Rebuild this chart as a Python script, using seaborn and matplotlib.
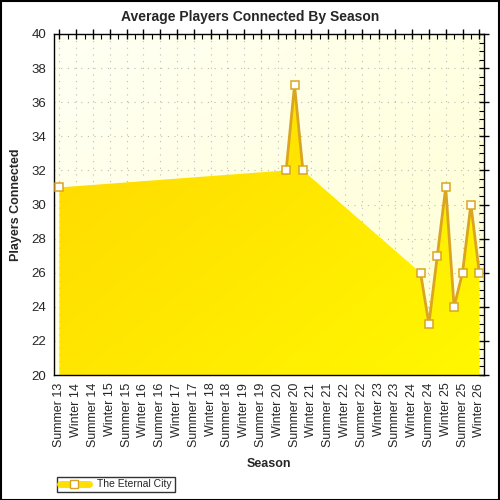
import numpy as np
import pandas as pd
import matplotlib
matplotlib.use('Agg')
import matplotlib.pyplot as plt
import seaborn as sns
from matplotlib.lines import Line2D
from matplotlib.colors import LinearSegmentedColormap
from matplotlib.ticker import MultipleLocator

# --- data ---
season_labels = [
    'Summer 13', 'Winter 14', 'Summer 14', 'Winter 15', 'Summer 15', 'Winter 16',
    'Summer 16', 'Winter 17', 'Summer 17', 'Winter 18', 'Summer 18', 'Winter 19',
    'Summer 19', 'Winter 20', 'Summer 20', 'Winter 21', 'Summer 21', 'Winter 22',
    'Summer 22', 'Winter 23', 'Summer 23', 'Winter 24', 'Summer 24', 'Winter 25',
    'Summer 25', 'Winter 26',
]
# position of each sample on the season axis (0 = Summer 13)
season_pos = [0, 13.5, 14, 14.5, 21.5, 22, 22.5, 23, 23.5, 24, 24.5, 25]
players = [31, 32, 37, 32, 26, 23, 27, 31, 24, 26, 30, 26]
series_name = 'The Eternal City'

LINE = '#DAA520'

sns.set_theme(style='white')
plt.rcParams['font.family'] = ['Liberation Sans', 'DejaVu Sans']

df = pd.DataFrame({'pos': season_pos, 'players': players})
# the line is only drawn between samples half a season apart
df['seg'] = (df['pos'].diff() > 0.5).cumsum()

fig = plt.figure(figsize=(5, 5), dpi=100)
ax = fig.add_axes([0.108, 0.25, 0.86, 0.682])
ax.set_xlim(-0.32, 25.28)
ax.set_ylim(20, 40)

# background gradient of the plot area
bg = LinearSegmentedColormap.from_list('bg', ['#FFFFF4', '#FFFFD2'])
gx, gy = np.meshgrid(np.linspace(0, 1, 200), np.linspace(0, 1, 200))
ax.imshow((gx + gy) / 2, cmap=bg, extent=[-0.32, 25.28, 20, 40],
          origin='upper', aspect='auto', zorder=0)

ax.grid(True, color='#BBBBBB', linestyle=(0, (1, 5)), linewidth=0.8, zorder=1)

# area fill with a gold to yellow gradient
area = ax.fill_between(df['pos'], df['players'], 20, color='none', zorder=2)
fg = LinearSegmentedColormap.from_list('fg', ['#FFD500', '#FFE600', '#FFF800'])
img = ax.imshow((gx + gy) / 2, cmap=fg, extent=[-0.32, 25.28, 20, 40],
                origin='upper', aspect='auto', zorder=2)
img.set_clip_path(area.get_paths()[0], transform=ax.transData)
area.remove()

sns.lineplot(data=df, x='pos', y='players', units='seg', estimator=None,
             color=LINE, linewidth=2, marker='s', markersize=5.5,
             markerfacecolor='white', markeredgecolor=LINE, markeredgewidth=1.1,
             ax=ax, zorder=3, legend=False)

ax.set_xticks(range(len(season_labels)))
ax.set_xticklabels(season_labels, rotation=90, fontsize=9)
ax.xaxis.set_minor_locator(MultipleLocator(0.5))
ax.yaxis.set_major_locator(MultipleLocator(2))
ax.yaxis.set_minor_locator(MultipleLocator(0.5))
ax.tick_params(axis='y', labelsize=9.5)
ax.tick_params(which='major', direction='inout', length=7, width=1, color='black',
               top=True, right=True, labeltop=False, labelright=False, pad=2)
ax.tick_params(which='minor', direction='in', length=3.5, width=0.8, color='black',
               top=True, right=True)
for s in ax.spines.values():
    s.set_color('black')
    s.set_linewidth(1)

ax.set_xlabel('Season', fontsize=9, fontweight='bold', labelpad=8)
ax.set_ylabel('Players Connected', fontsize=9, fontweight='bold', labelpad=7)
fig.suptitle('Average Players Connected By Season', x=0.5, y=0.965,
             fontsize=10, fontweight='bold', va='center')

handle = Line2D([0], [0], color='#FFE000', linewidth=5, marker='s', markersize=5.5,
                markerfacecolor='white', markeredgecolor=LINE)
fig.legend([handle], [series_name], loc='lower left', bbox_to_anchor=(0.104, 0.006),
           fontsize=7.5, frameon=True, fancybox=False, edgecolor='black',
           borderpad=0.25, handlelength=2.8, handletextpad=0.8)

# outer frame
fig.patches.append(plt.Rectangle((0.001, 0.001), 0.997, 0.997, transform=fig.transFigure,
                                 fill=False, edgecolor='black', linewidth=1.5))

fig.savefig('out.png', dpi=100)
